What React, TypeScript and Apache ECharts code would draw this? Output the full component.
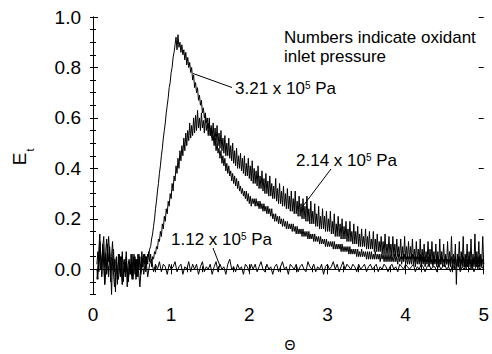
import React, { useEffect, useRef } from "react";
import * as echarts from "echarts";

const THETA_START = 0.05;
const DENSE_STEP = 0.0125; // sampling step of the 3.21 and 2.14 traces
const SPARSE_STEP = 0.025; // sampling step of the 1.12 trace

// 3.21 x 10^5 Pa (one row = 0.25 in Θ)
const P321 = [
  0.02, 0.07, -0.01, 0.11, 0.04, -0.03, 0.09, 0.13, 0.01, 0.06, -0.02, 0.10, 0.03, 0.08, -0.05, 0.05, 0.11, 0.00, 0.04, -0.09,
  0.03, -0.04, 0.06, 0.01, -0.02, 0.05, -0.06, 0.02, 0.04, -0.03, 0.07, 0.00, -0.05, 0.03, 0.01, -0.02, 0.06, -0.04, 0.02, 0.05,
  0.00, 0.04, -0.03, 0.06, 0.02, -0.01, 0.05, 0.01, 0.06, 0.02, 0.05, 0.03, 0.06, 0.05, 0.08, 0.09, 0.12, 0.14, 0.17, 0.20,
  0.24, 0.27, 0.31, 0.34, 0.38, 0.41, 0.45, 0.48, 0.52, 0.55, 0.58, 0.62, 0.65, 0.68, 0.72, 0.74, 0.78, 0.80, 0.84, 0.86,
  0.89, 0.92, 0.87, 0.93, 0.88, 0.90, 0.86, 0.89, 0.85, 0.87, 0.83, 0.86, 0.81, 0.84, 0.80, 0.82, 0.78, 0.80, 0.75, 0.77,
  0.72, 0.74, 0.70, 0.72, 0.67, 0.69, 0.65, 0.67, 0.62, 0.64, 0.60, 0.62, 0.58, 0.60, 0.56, 0.58, 0.53, 0.56, 0.51, 0.53,
  0.49, 0.52, 0.47, 0.50, 0.46, 0.48, 0.44, 0.47, 0.42, 0.45, 0.41, 0.44, 0.39, 0.42, 0.38, 0.41, 0.37, 0.39, 0.35, 0.38,
  0.34, 0.37, 0.33, 0.36, 0.32, 0.35, 0.31, 0.33, 0.30, 0.32, 0.29, 0.31, 0.28, 0.31, 0.27, 0.30, 0.26, 0.29, 0.25, 0.28,
  0.26, 0.28, 0.25, 0.28, 0.25, 0.27, 0.24, 0.27, 0.24, 0.26, 0.23, 0.26, 0.23, 0.25, 0.22, 0.25, 0.22, 0.24, 0.21, 0.24,
  0.20, 0.22, 0.19, 0.22, 0.19, 0.21, 0.18, 0.21, 0.18, 0.20, 0.17, 0.20, 0.17, 0.19, 0.16, 0.19, 0.16, 0.18, 0.16, 0.18,
  0.15, 0.18, 0.15, 0.17, 0.14, 0.17, 0.14, 0.16, 0.14, 0.16, 0.13, 0.16, 0.13, 0.15, 0.13, 0.15, 0.12, 0.15, 0.12, 0.14,
  0.12, 0.14, 0.11, 0.14, 0.11, 0.13, 0.11, 0.13, 0.10, 0.13, 0.10, 0.12, 0.10, 0.12, 0.09, 0.12, 0.09, 0.11, 0.09, 0.11,
  0.09, 0.11, 0.08, 0.11, 0.08, 0.10, 0.08, 0.10, 0.08, 0.10, 0.07, 0.10, 0.07, 0.09, 0.07, 0.09, 0.07, 0.09, 0.06, 0.09,
  0.06, 0.08, 0.06, 0.08, 0.06, 0.08, 0.05, 0.08, 0.05, 0.07, 0.05, 0.08, 0.05, 0.07, 0.05, 0.07, 0.04, 0.07, 0.04, 0.07,
  0.04, 0.07, 0.04, 0.06, 0.04, 0.07, 0.04, 0.06, 0.04, 0.06, 0.03, 0.06, 0.04, 0.06, 0.03, 0.06, 0.03, 0.06, 0.03, 0.06,
  0.03, 0.06, 0.03, 0.05, 0.03, 0.06, 0.03, 0.05, 0.02, 0.06, 0.03, 0.05, 0.02, 0.05, 0.03, 0.06, 0.02, 0.05, 0.02, 0.05,
  0.02, 0.05, 0.02, 0.06, 0.02, 0.05, 0.01, 0.05, 0.02, 0.05, 0.02, 0.06, 0.01, 0.05, 0.02, 0.05, 0.01, 0.04, 0.02, 0.05,
  0.01, 0.05, 0.02, 0.04, 0.01, 0.05, 0.02, 0.04, 0.01, 0.05, 0.01, 0.04, 0.02, 0.05, 0.01, 0.04, 0.01, 0.05, 0.02, 0.04,
  0.01, 0.04, 0.01, 0.05, 0.01, 0.04, 0.00, 0.05, 0.01, 0.04, 0.01, 0.05, 0.00, 0.04, 0.01, 0.05, 0.01, 0.04, 0.00, 0.04,
  0.01, 0.05, 0.01, 0.04, 0.00, 0.04, 0.01, 0.05, 0.01, 0.04, 0.00, 0.05, 0.01, 0.04, 0.01, 0.04, 0.02,
];

// 2.14 x 10^5 Pa (one row = 0.25 in Θ)
const P214 = [
  0.00, -0.04, 0.08, 0.14, 0.03, -0.02, 0.10, 0.05, -0.06, 0.07, 0.12, 0.01, -0.03, 0.09, 0.02, -0.10, 0.04, 0.08, -0.01, 0.03,
  0.05, -0.06, 0.02, 0.06, -0.03, 0.01, 0.07, -0.05, 0.03, -0.01, 0.05, -0.07, 0.02, 0.04, -0.02, 0.06, -0.04, 0.01, 0.05, -0.02,
  0.04, -0.03, 0.06, 0.00, 0.05, -0.02, 0.07, 0.01, 0.04, 0.06, -0.01, 0.05, 0.02, 0.07, 0.03, 0.06, 0.01, 0.05, 0.04, 0.07,
  0.06, 0.09, 0.08, 0.12, 0.11, 0.15, 0.13, 0.18, 0.16, 0.21, 0.19, 0.24, 0.22, 0.27, 0.25, 0.30, 0.28, 0.34, 0.31, 0.37,
  0.35, 0.41, 0.38, 0.44, 0.40, 0.47, 0.43, 0.49, 0.45, 0.52, 0.47, 0.54, 0.49, 0.55, 0.51, 0.58, 0.52, 0.57, 0.53, 0.60,
  0.54, 0.61, 0.55, 0.63, 0.56, 0.60, 0.55, 0.62, 0.56, 0.59, 0.54, 0.61, 0.55, 0.58, 0.53, 0.60, 0.53, 0.57, 0.52, 0.58,
  0.51, 0.56, 0.50, 0.57, 0.49, 0.54, 0.48, 0.55, 0.47, 0.52, 0.46, 0.53, 0.45, 0.50, 0.45, 0.52, 0.44, 0.49, 0.43, 0.50,
  0.42, 0.47, 0.41, 0.48, 0.40, 0.45, 0.40, 0.46, 0.39, 0.44, 0.38, 0.45, 0.37, 0.42, 0.37, 0.44, 0.36, 0.41, 0.35, 0.43,
  0.34, 0.40, 0.34, 0.39, 0.33, 0.41, 0.32, 0.37, 0.32, 0.39, 0.31, 0.36, 0.30, 0.38, 0.30, 0.35, 0.29, 0.37, 0.29, 0.34,
  0.28, 0.33, 0.28, 0.36, 0.27, 0.32, 0.26, 0.34, 0.26, 0.31, 0.25, 0.33, 0.25, 0.30, 0.24, 0.32, 0.24, 0.29, 0.23, 0.31,
  0.23, 0.28, 0.22, 0.31, 0.22, 0.27, 0.21, 0.29, 0.21, 0.26, 0.20, 0.28, 0.20, 0.25, 0.19, 0.29, 0.19, 0.24, 0.18, 0.27,
  0.18, 0.23, 0.18, 0.26, 0.17, 0.22, 0.17, 0.25, 0.16, 0.21, 0.16, 0.24, 0.16, 0.21, 0.15, 0.23, 0.15, 0.20, 0.15, 0.23,
  0.14, 0.19, 0.14, 0.22, 0.13, 0.18, 0.13, 0.21, 0.13, 0.18, 0.12, 0.20, 0.12, 0.17, 0.12, 0.19, 0.11, 0.16, 0.11, 0.19,
  0.11, 0.15, 0.10, 0.18, 0.10, 0.15, 0.10, 0.17, 0.09, 0.14, 0.09, 0.16, 0.09, 0.13, 0.09, 0.16, 0.08, 0.13, 0.08, 0.15,
  0.08, 0.12, 0.08, 0.15, 0.07, 0.12, 0.07, 0.14, 0.07, 0.11, 0.07, 0.13, 0.06, 0.11, 0.06, 0.14, 0.06, 0.10, 0.06, 0.13,
  0.06, 0.10, 0.05, 0.13, 0.05, 0.10, 0.05, 0.12, 0.05, 0.09, 0.05, 0.12, 0.04, 0.09, 0.04, 0.13, 0.04, 0.09, 0.04, 0.11,
  0.04, 0.09, 0.04, 0.12, 0.04, 0.08, 0.03, 0.11, 0.04, 0.08, 0.03, 0.12, 0.03, 0.08, 0.03, 0.10, 0.03, 0.07, 0.03, 0.11,
  0.03, 0.08, 0.03, 0.11, 0.02, 0.07, 0.03, 0.10, 0.02, 0.07, 0.02, 0.12, 0.02, 0.07, 0.03, 0.10, 0.02, 0.06, 0.02, 0.11,
  0.02, 0.07, 0.02, 0.13, 0.02, 0.06, 0.02, 0.10, -0.06, 0.06, 0.02, 0.11, 0.01, 0.07, 0.02, 0.13, 0.01, 0.06, 0.02, 0.10,
  0.01, 0.07, 0.02, 0.12, 0.01, 0.06, 0.02, 0.14, 0.01, 0.07, 0.02, 0.11, 0.01, 0.06, 0.02, 0.13, 0.02,
];

// 1.12 x 10^5 Pa (one row = 0.25 in Θ)
const P112 = [
  -0.04, 0.06, 0.00, 0.09, -0.06, 0.03, 0.13, -0.02, 0.04, -0.07,
  0.02, -0.04, 0.05, -0.06, 0.01, 0.03, -0.05, 0.02, -0.03, 0.06,
  -0.04, 0.03, -0.07, 0.04, -0.02, 0.05, -0.03, 0.02, 0.04, -0.01,
  0.02, 0.00, 0.03, -0.01, 0.02, 0.01, -0.02, 0.02, 0.00, 0.01,
  0.03, -0.01, 0.01, 0.02, -0.02, 0.01, 0.00, 0.03, -0.01, 0.02,
  0.00, 0.02, -0.02, 0.01, 0.03, -0.01, 0.01, 0.00, 0.02, -0.02,
  0.01, 0.03, -0.01, 0.02, 0.00, 0.01, -0.02, 0.02, 0.04, 0.00,
  0.01, -0.01, 0.02, 0.00, 0.01, -0.02, 0.02, 0.01, -0.01, 0.02,
  0.00, 0.02, -0.01, 0.01, 0.03, 0.00, -0.01, 0.02, 0.00, 0.01,
  -0.02, 0.01, 0.02, -0.01, 0.01, 0.03, 0.00, 0.01, -0.02, 0.02,
  0.01, 0.00, 0.02, -0.01, 0.01, 0.02, 0.00, -0.01, 0.03, 0.01,
  0.00, 0.02, -0.01, 0.01, 0.00, 0.02, -0.02, 0.01, 0.02, 0.00,
  0.01, 0.03, 0.00, 0.02, -0.01, 0.01, 0.03, 0.00, 0.02, 0.01,
  0.00, 0.02, 0.01, -0.01, 0.02, 0.00, 0.01, 0.02, -0.01, 0.01,
  0.02, 0.00, 0.01, 0.02, -0.01, 0.01, 0.00, 0.02, 0.01, -0.01,
  0.01, 0.02, 0.00, 0.01, -0.01, 0.02, 0.01, 0.00, 0.02, 0.01,
  0.00, 0.01, 0.02, -0.01, 0.01, 0.00, 0.02, 0.01, -0.01, 0.01,
  0.02, 0.00, 0.01, 0.01, -0.01, 0.02, 0.00, 0.01, 0.02, 0.00,
  0.01, -0.01, 0.02, 0.00, 0.01, 0.02, -0.01, 0.01, 0.00, 0.02,
  0.01, 0.00, 0.02, -0.01, 0.01, 0.02, 0.00, 0.01, 0.00,
];

const X_TICKS = [0, 1, 2, 3, 4, 5];
const Y_MAJOR = [0, 0.2, 0.4, 0.6, 0.8, 1.0];

const FONT = "Liberation Sans, Arial, sans-serif";

function toPoints(values: number[], step: number) {
  return values.map((v, i) => [+(THETA_START + i * step).toFixed(4), v]);
}

export default function App() {
  const ref = useRef<HTMLDivElement>(null);

  useEffect(() => {
    if (!ref.current) return;
    const chart = echarts.init(ref.current, null, { renderer: "svg" });

    const axisLine = { show: true, lineStyle: { color: "#000", width: 1 } };
    const baseX = {
      type: "value" as const,
      min: X_TICKS[0],
      max: X_TICKS[X_TICKS.length - 1],
      interval: 1,
      axisLine,
      axisTick: { show: true, inside: true, length: 5, lineStyle: { color: "#000" } },
      minorTick: { show: true, splitNumber: 5, length: 3, lineStyle: { color: "#000" } },
      splitLine: { show: false },
      minorSplitLine: { show: false },
    };
    const baseY = {
      type: "value" as const,
      min: -0.1,
      max: 1.0,
      interval: 0.05,
      axisLine,
      axisTick: { show: true, inside: true, length: 3, lineStyle: { color: "#000" } },
      splitLine: { show: false },
    };
    const majorY = {
      type: "value" as const,
      min: -0.1,
      max: 1.0,
      axisLine: { show: false },
      axisTick: { show: true, inside: true, length: 5, customValues: Y_MAJOR, lineStyle: { color: "#000" } },
      axisLabel: { show: false },
      splitLine: { show: false },
    };

    const isMajor = (v: number) => Math.abs(v * 5 - Math.round(v * 5)) < 1e-6 && v > -0.05;

    const lineSeries = (name: string, values: number[], step: number) => ({
      name,
      type: "line" as const,
      data: toPoints(values, step),
      showSymbol: false,
      symbol: "none",
      smooth: false,
      lineStyle: { color: "#000", width: 1 },
      xAxisIndex: 0,
      yAxisIndex: 0,
      z: 2,
    });

    const richText = (text: string) => ({
      text,
      rich: {
        n: { fontSize: 17, fontFamily: FONT, fill: "#000" },
        s: { fontSize: 10, fontFamily: FONT, fill: "#000", verticalAlign: "top" },
      },
      align: "left",
      verticalAlign: "middle",
      fill: "#000",
    });

    chart.setOption({
      animation: false,
      grid: { left: 93, right: 3, top: 17, bottom: 59.5, containLabel: false },
      xAxis: [
        {
          ...baseX,
          position: "bottom",
          axisLabel: { show: true, fontSize: 19, fontFamily: FONT, color: "#000", margin: 10 },
        },
        { ...baseX, position: "top", axisLabel: { show: false } },
      ],
      yAxis: [
        {
          ...baseY,
          position: "left",
          axisLabel: {
            show: true,
            fontSize: 19,
            fontFamily: FONT,
            color: "#000",
            margin: 12,
            formatter: (v: number) => (isMajor(v) ? v.toFixed(1) : ""),
          },
        },
        { ...baseY, position: "right", axisLabel: { show: false } },
        { ...majorY, position: "left" },
        { ...majorY, position: "right" },
      ],
      series: [
        lineSeries("1.12 x 10^5 Pa", P112, SPARSE_STEP),
        lineSeries("2.14 x 10^5 Pa", P214, DENSE_STEP),
        lineSeries("3.21 x 10^5 Pa", P321, DENSE_STEP),
      ],
      graphic: [
        {
          type: "text",
          x: 284,
          y: 37.5,
          style: { text: "Numbers indicate oxidant", fontSize: 17, fontFamily: FONT, fill: "#000", align: "left", verticalAlign: "middle" },
        },
        {
          type: "text",
          x: 284,
          y: 56.5,
          style: { text: "inlet pressure", fontSize: 17, fontFamily: FONT, fill: "#000", align: "left", verticalAlign: "middle" },
        },
        { type: "text", x: 235, y: 88.5, style: richText("{n|3.21 x 10}{s|5}{n| Pa}") },
        { type: "text", x: 296, y: 160.5, style: richText("{n|2.14 x 10}{s|5}{n| Pa}") },
        { type: "text", x: 171, y: 239.5, style: richText("{n|1.12 x 10}{s|5}{n| Pa}") },
        { type: "line", shape: { x1: 193, y1: 73.5, x2: 232, y2: 87.5 }, style: { stroke: "#000", lineWidth: 1 } },
        { type: "line", shape: { x1: 331, y1: 169, x2: 303, y2: 206 }, style: { stroke: "#000", lineWidth: 1 } },
        { type: "line", shape: { x1: 213, y1: 248, x2: 220, y2: 266 }, style: { stroke: "#000", lineWidth: 1 } },
        {
          type: "text",
          x: 19,
          y: 159,
          rotation: Math.PI / 2,
          style: { text: "E", fontSize: 19, fontFamily: FONT, fill: "#000", align: "center", verticalAlign: "middle" },
        },
        {
          type: "text",
          x: 29.5,
          y: 150,
          rotation: Math.PI / 2,
          style: { text: "t", fontSize: 11, fontFamily: FONT, fill: "#000", align: "center", verticalAlign: "middle" },
        },
        {
          type: "text",
          x: 290,
          y: 345,
          style: { text: "Θ", fontSize: 14, fontFamily: FONT, fill: "#000", align: "center", verticalAlign: "middle" },
        },
      ],
    });

    return () => chart.dispose();
  }, []);

  return <div ref={ref} style={{ position: "absolute", left: 0, top: 0, width: 492, height: 354 }} />;
}
